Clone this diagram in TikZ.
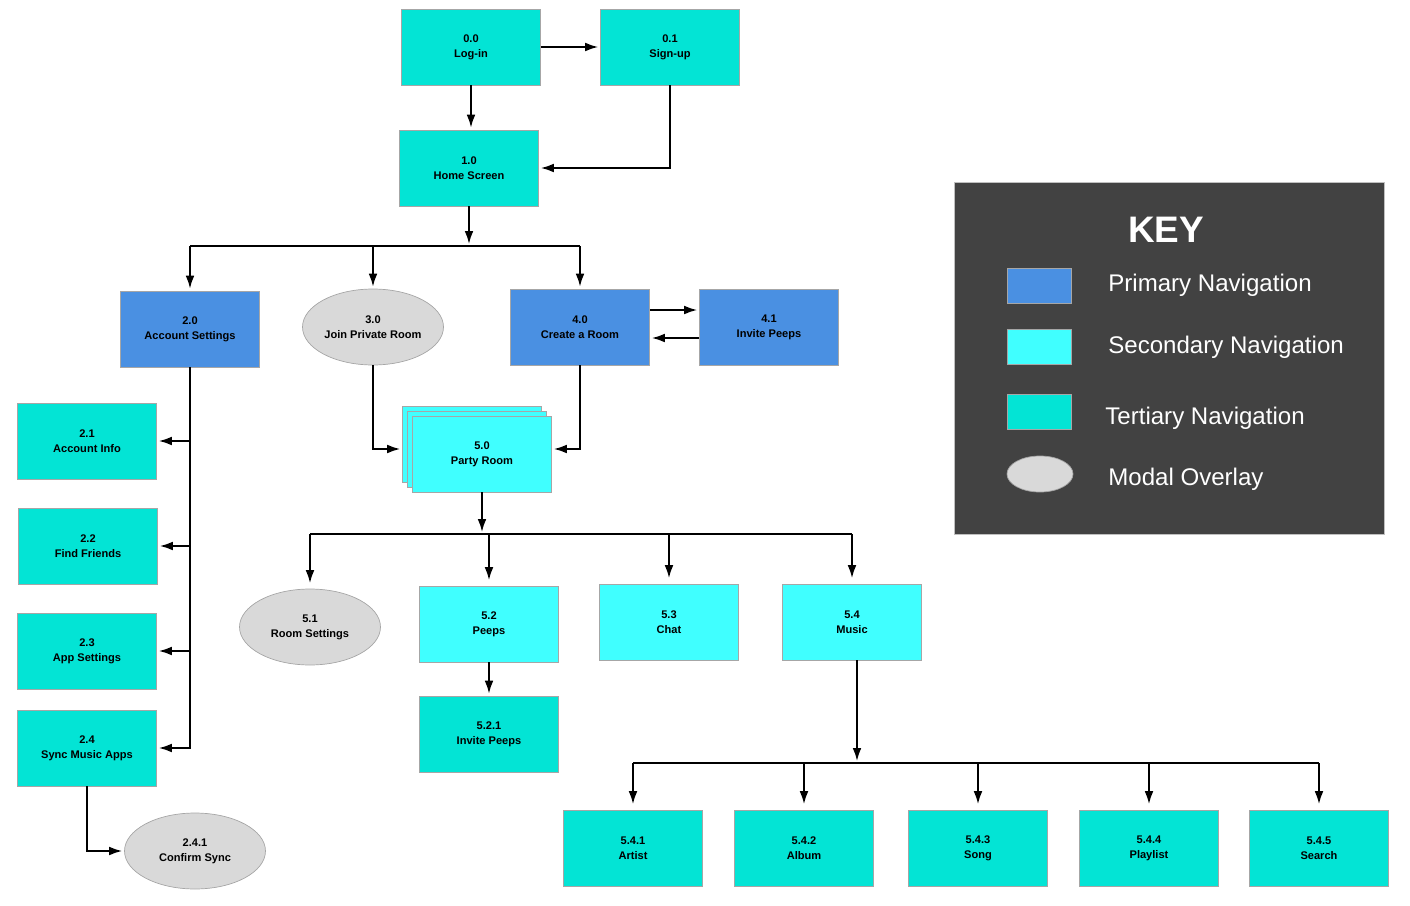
\documentclass[tikz,border=0pt]{standalone}
\usepackage{fontspec}
\setmainfont{Liberation Sans}
\usetikzlibrary{shapes.geometric, arrows.meta}
\definecolor{navblue}{RGB}{74,144,226}
\definecolor{navcyan}{RGB}{64,255,255}
\definecolor{navteal}{RGB}{3,228,213}
\definecolor{modalgray}{RGB}{217,217,217}
\definecolor{keygray}{RGB}{66,66,66}
\tikzset{every node/.style={align=center}, >= {Latex[length=7.5pt,width=5pt]}, font=\bfseries\fontsize{6.3}{8.5}\selectfont}
\tikzset{
  screen/.style={rectangle, draw=gray!70, minimum width=2.78cm, minimum height=1.52cm, inner sep=0pt},
  primary/.style={screen, fill=navblue},
  secondary/.style={screen, fill=navcyan},
  tertiary/.style={screen, fill=navteal},
  modal/.style={ellipse, draw=gray!70, fill=modalgray, minimum width=2.82cm, minimum height=1.52cm, inner sep=0pt},
  link/.style={->, line width=1.2pt, shorten >=1pt},
  keytext/.style={anchor=west, inner sep=0pt, text=white, font=\fontsize{13.7}{14}\selectfont}
}

\begin{document}
\begin{tikzpicture}[x=0.02cm, y=-0.02cm]
    \useasboundingbox (0,0) rectangle (1410,906);
    % key
    \node [draw=gray!50, fill=keygray, minimum width=8.6cm, minimum height=7.04cm, inner sep=0pt] (key) at (1169,358) {};
    \node [text=white, font=\bfseries\fontsize{21}{21}\selectfont] (keyt) at (1166,230) {KEY};
    \node [primary, minimum width=1.28cm, minimum height=0.7cm] (k1) at (1039,286) {};
    \node [secondary, minimum width=1.28cm, minimum height=0.7cm] (k2) at (1039,347) {};
    \node [tertiary, minimum width=1.28cm, minimum height=0.7cm] (k3) at (1039,412) {};
    \node [modal, minimum width=1.32cm, minimum height=0.72cm] (k4) at (1040,474) {};
    \node [keytext] (k1t) at (1108,285) {Primary Navigation};
    \node [keytext] (k2t) at (1108,347) {Secondary Navigation};
    \node [keytext] (k3t) at (1105,418) {Tertiary Navigation};
    \node [keytext] (k4t) at (1108,479) {Modal Overlay};
    % screens
    \node [tertiary] (s00) at (471,47) {0.0\\Log-in};
    \node [tertiary] (s01) at (670,47) {0.1\\Sign-up};
    \node [tertiary] (s10) at (469,168) {1.0\\Home Screen};
    \node [primary] (s20) at (190,329) {2.0\\Account Settings};
    \node [modal] (s30) at (373,327) {3.0\\Join Private Room};
    \node [primary] (s40) at (580,327) {4.0\\Create a Room};
    \node [primary] (s41) at (769,327) {4.1\\Invite Peeps};
    \node [secondary] (s50b) at (472,444) {};
    \node [secondary] (s50c) at (477,449) {};
    \node [secondary] (s50) at (482,454) {5.0\\Party Room};
    \node [tertiary] (s21) at (87,441) {2.1\\Account Info};
    \node [tertiary] (s22) at (88,546) {2.2\\Find Friends};
    \node [tertiary] (s23) at (87,651) {2.3\\App Settings};
    \node [tertiary] (s24) at (87,748) {2.4\\Sync Music Apps};
    \node [modal] (s241) at (195,851) {2.4.1\\Confirm Sync};
    \node [modal] (s51) at (310,627) {5.1\\Room Settings};
    \node [secondary] (s52) at (489,624) {5.2\\Peeps};
    \node [tertiary] (s521) at (489,734) {5.2.1\\Invite Peeps};
    \node [secondary] (s53) at (669,622) {5.3\\Chat};
    \node [secondary] (s54) at (852,622) {5.4\\Music};
    \node [tertiary] (s541) at (633,848) {5.4.1\\Artist};
    \node [tertiary] (s542) at (804,848) {5.4.2\\Album};
    \node [tertiary] (s543) at (978,848) {5.4.3\\Song};
    \node [tertiary] (s544) at (1149,848) {5.4.4\\Playlist};
    \node [tertiary] (s545) at (1319,848) {5.4.5\\Search};
    % links
    \coordinate (b1) at (470,246);
    \coordinate (b5) at (481,534);
    \coordinate (b54) at (857,763);
    \draw [link] (s00) -- (s01);
    \draw [link] (s00.south) -- (s00.south |- s10.north);
    \draw [link] (s01.south) |- (s10.east);
    \draw [link] (s10.south) -- (s10.south |- b1);
    \draw [line width=1.2pt] (s20 |- b1) -- (s40 |- b1);
    \foreach \n in {s20,s30,s40}
        \draw [link] (\n |- b1) -- (\n.north);
    \draw [link] ([yshift=0.34cm]s40.east) -- ([yshift=0.34cm]s41.west);
    \draw [link] ([yshift=-0.22cm]s41.west) -- ([yshift=-0.22cm]s40.east);
    \foreach \n in {s21,s22,s23,s24}
        \draw [link] (s20.south) |- (\n.east);
    \draw [link] (s24.south) |- (s241.west);
    \draw [link] (s30.south) |- (s50b.west |- s50c);
    \draw [link] (s40.south) |- (s50.east |- s50c);
    \draw [link] (s50.south) -- (s50.south |- b5);
    \draw [line width=1.2pt] (s51 |- b5) -- (s54 |- b5);
    \foreach \n in {s51,s52,s53,s54}
        \draw [link, shorten >=3pt] (\n |- b5) -- (\n.north);
    \draw [link] (s52) -- (s521);
    \draw [link] (s54.south -| b54) -- (b54);
    \draw [line width=1.2pt] (s541 |- b54) -- (s545 |- b54);
    \foreach \n in {s541,s542,s543,s544,s545}
        \draw [link, shorten >=3pt] (\n |- b54) -- (\n.north);
\end{tikzpicture}
\end{document}
